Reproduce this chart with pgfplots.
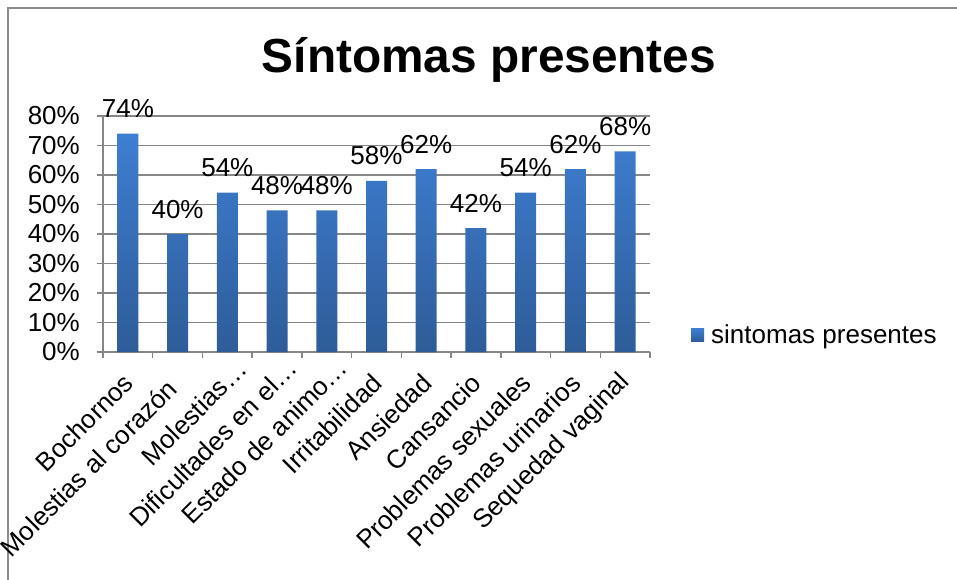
\documentclass[border=0pt]{standalone}
\usepackage{pgfplots}
\pgfplotsset{compat=1.18}
\usepackage{fontspec}
\setmainfont{Liberation Sans}

\definecolor{barTop}{RGB}{62,126,210}
\definecolor{barBot}{RGB}{46,92,152}
\definecolor{gridGray}{RGB}{134,134,134}
\definecolor{frameGray}{RGB}{140,140,140}

\newcommand{\lbl}{\fontsize{26}{30}\selectfont}

\begin{document}
\begin{tikzpicture}
\clip (0pt,0pt) rectangle (957pt,-579pt);
% outer frame (only left and top edges are visible)
\draw[frameGray, line width=2pt] (8pt,-600pt) -- (8pt,-8pt) -- (970pt,-8pt);
\node[anchor=base, font=\fontsize{47.8}{56}\selectfont\bfseries] at (489pt,-72pt) {Síntomas presentes};

\begin{axis}[
    at={(103pt,-352pt)}, anchor=south west,
    scale only axis,
    width=547pt, height=236pt,
    ybar, bar width=21pt,
    xmin=-0.5, xmax=10.5,
    ymin=0, ymax=80,
    xtick={0,...,10},
    % truncated labels sit a little further along, as in the original
    xticklabels={Bochornos, Molestias al corazón\kern8pt\relax, Molestias…\kern-20pt\relax,
        Dificultades en el…\kern-21pt\relax, Estado de animo…\kern-22pt\relax, Irritabilidad,
        Ansiedad, Cansancio, Problemas sexuales, Problemas urinarios, Sequedad vaginal},
    minor xtick={-0.5,0.5,...,10.5},
    major x tick style={draw=none},
    ytick={0,10,...,80},
    yticklabel={\pgfmathprintnumber{\tick}\%},
    /pgf/number format/assume math mode=true,
    axis lines*=left,
    axis line style={gridGray, line width=1.5pt, -},
    ymajorgrids,
    grid style={gridGray, line width=1.5pt},
    tick align=outside,
    major tick length=6pt,
    minor tick length=6pt,
    tick style={gridGray, line width=1.5pt},
    tick label style={font=\lbl, text=black},
    x tick label style={xshift=2pt, yshift=-19pt, rotate=45, anchor=east, inner sep=2pt},
    y tick label style={xshift=-15pt, inner sep=2pt},
    nodes near coords={\pgfmathprintnumber{\pgfplotspointmeta}\%},
    every node near coord/.append style={anchor=base, yshift=16pt, font=\lbl, text=black},
    legend style={at={(1,0.072)}, anchor=west, xshift=41pt, draw=none, fill=none, font=\lbl, inner sep=0pt,
        nodes={inner sep=0pt}},
    legend image code/.code={\path (0pt,0pt) -- (20pt,0pt);
        \shade[top color=barTop, bottom color=barBot] (0pt,-6.5pt) rectangle (13pt,6.5pt);},
    clip=false,
]
\addplot[draw=none, top color=barTop, bottom color=barBot] coordinates {
    (0,74) (1,40) (2,54) (3,48) (4,48) (5,58)
    (6,62) (7,42) (8,54) (9,62) (10,68)
};
\addlegendentry{sintomas presentes}
\end{axis}
\end{tikzpicture}
\end{document}
